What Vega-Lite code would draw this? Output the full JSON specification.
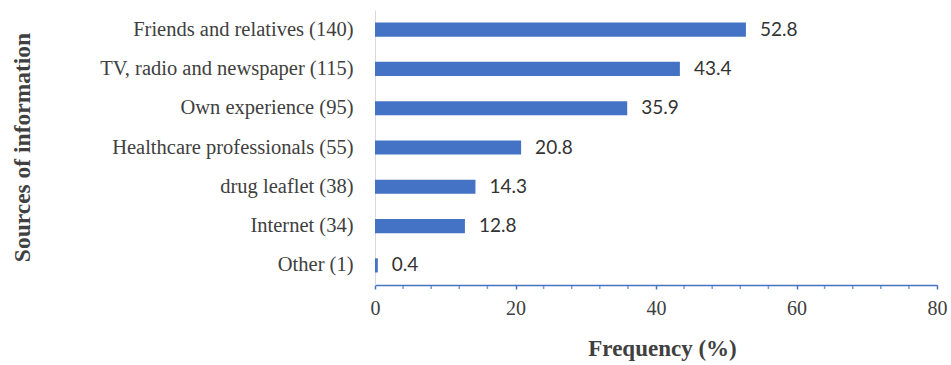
{
  "$schema": "https://vega.github.io/schema/vega-lite/v6.json",
  "width": 562,
  "height": 275,
  "autosize": {"type": "none"},
  "padding": {"left": 375, "top": 10, "right": 14, "bottom": 80},
  "background": "white",
  "config": {"view": {"stroke": null}},
  "data": {
    "values": [
      {"source": "Friends and relatives (140)", "pct": 52.8},
      {"source": "TV, radio and newspaper (115)", "pct": 43.4},
      {"source": "Own experience (95)", "pct": 35.9},
      {"source": "Healthcare professionals (55)", "pct": 20.8},
      {"source": "drug leaflet (38)", "pct": 14.3},
      {"source": "Internet (34)", "pct": 12.8},
      {"source": "Other (1)", "pct": 0.4}
    ]
  },
  "encoding": {
    "y": {
      "field": "source",
      "type": "nominal",
      "sort": null,
      "scale": {"paddingInner": 0.64, "paddingOuter": 0.32},
      "axis": {
        "title": "Sources of information",
        "titleFont": "Liberation Serif",
        "titleFontSize": 23.5,
        "titleFontWeight": "bold",
        "titleColor": "#404040",
        "titleX": -353,
        "titleY": 137,
        "titleAlign": "center",
        "titleBaseline": "middle",
        "titleAngle": -90,
        "labelFont": "Liberation Serif",
        "labelFontSize": 20.5,
        "labelColor": "#404040",
        "labelPadding": 22,
        "labelLimit": 400,
        "ticks": false,
        "domainColor": "#d9d9d9",
        "domainWidth": 1
      }
    },
    "x": {
      "field": "pct",
      "type": "quantitative",
      "scale": {"domain": [0, 80], "nice": false},
      "axis": {
        "title": "Frequency (%)",
        "titleFont": "Liberation Serif",
        "titleFontSize": 23,
        "titleFontWeight": "bold",
        "titleColor": "#404040",
        "titlePadding": 19,
        "titleX": 287,
        "values": [0, 20, 40, 60, 80],
        "labelFont": "Liberation Serif",
        "labelFontSize": 20,
        "labelColor": "#404040",
        "labelPadding": 9,
        "labelFlush": false,
        "grid": false,
        "domainColor": "#4472C4",
        "domainWidth": 1.5,
        "tickColor": "#4472C4",
        "tickSize": 4,
        "tickWidth": 1.5
      }
    }
  },
  "layer": [
    {"mark": {"type": "bar", "color": "#4472C4"}},
    {
      "mark": {"type": "text", "align": "left", "baseline": "middle", "dx": 14, "font": "Lato", "fontSize": 19, "color": "#333333"},
      "encoding": {"text": {"field": "pct", "type": "quantitative", "format": ".1f"}}
    },
    {
      "data": {"values": [{"t": 4}, {"t": 8}, {"t": 12}, {"t": 16}, {"t": 24}, {"t": 28}, {"t": 32}, {"t": 36}, {"t": 44}, {"t": 48}, {"t": 52}, {"t": 56}, {"t": 64}, {"t": 68}, {"t": 72}, {"t": 76}]},
      "mark": {"type": "tick", "orient": "vertical", "color": "#4472C4", "thickness": 1.5, "size": 4},
      "encoding": {
        "x": {"field": "t", "type": "quantitative"},
        "y": {"value": 277}
      }
    }
  ]
}
